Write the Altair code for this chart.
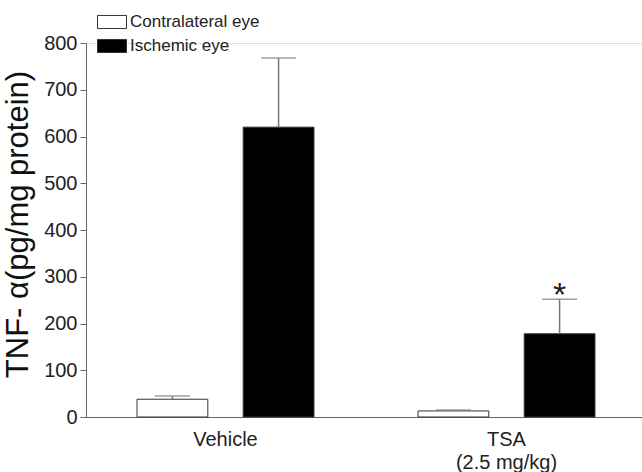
import altair as alt
import pandas as pd

# Treatment groups and eye series
groups = ["Vehicle", "TSA (2.5 mg/kg)"]
series = ["Contralateral eye", "Ischemic eye"]

# Mean TNF-alpha (pg/mg protein) and SEM per group
contralateral_mean = [38, 13]
contralateral_sem = [7, 2]
ischemic_mean = [620, 178]
ischemic_sem = [148, 74]

# Significance marks per group (ischemic eye)
ischemic_sig = ["", "*"]

rows = []
for i, g in enumerate(groups):
    rows.append({"group": g, "eye": series[0], "mean": contralateral_mean[i],
                 "upper": contralateral_mean[i] + contralateral_sem[i], "sig": ""})
    rows.append({"group": g, "eye": series[1], "mean": ischemic_mean[i],
                 "upper": ischemic_mean[i] + ischemic_sem[i], "sig": ischemic_sig[i]})
df = pd.DataFrame(rows)

FONT = "Liberation Sans"

x_enc = alt.X(
    "group:N",
    sort=groups,
    scale=alt.Scale(paddingInner=0, paddingOuter=0, range=[-1, 561]),
    axis=alt.Axis(
        title=None,
        labelAngle=0,
        ticks=False,
        domainColor="#666",
        labelFont=FONT,
        labelFontSize=20,
        labelColor="#222",
        labelPadding=12,
        labelLineHeight=23,
        labelExpr="datum.value == 'Vehicle' ? 'Vehicle' : ['TSA', '(2.5 mg/kg)']",
    ),
)
xo_enc = alt.XOffset(
    "eye:N", sort=series, scale=alt.Scale(paddingInner=0.3333, paddingOuter=0.49)
)

base = alt.Chart(df)

bars = base.mark_bar(stroke="#333", strokeWidth=1).encode(
    x=x_enc,
    xOffset=xo_enc,
    y=alt.Y(
        "mean:Q",
        scale=alt.Scale(domain=[0, 800], nice=False),
        axis=alt.Axis(
            values=list(range(0, 801, 100)),
            title="TNF- α(pg/mg protein)",
            titleFont=FONT,
            titleFontSize=31,
            titleFontWeight="normal",
            titleColor="#111",
            titlePadding=9,
            titleY=181,
            grid=False,
            tickSize=6,
            tickColor="#666",
            domainColor="#666",
            labelFont=FONT,
            labelFontSize=20,
            labelColor="#222",
            labelPadding=3,
        ),
    ),
    fill=alt.Fill(
        "eye:N",
        sort=series,
        scale=alt.Scale(domain=series, range=["white", "black"]),
        legend=alt.Legend(
            title=None,
            orient="none",
            legendX=11,
            legendY=-36,
            padding=0,
            symbolType="M-1,-0.45H1V0.45H-1Z",
            symbolSize=841,
            symbolStrokeColor="#333",
            symbolStrokeWidth=1,
            labelFont=FONT,
            labelFontSize=17,
            labelColor="#222",
            labelOffset=3,
            rowPadding=-5,
        ),
    ),
)

err = base.mark_rule(color="#777", strokeWidth=1.5).encode(
    x=x_enc, xOffset=xo_enc, y="mean:Q", y2="upper:Q"
)

caps = base.mark_tick(color="#777", thickness=1.5, size=35).encode(
    x=x_enc, xOffset=xo_enc, y="upper:Q"
)

stars = base.mark_text(
    font=FONT, fontSize=34, color="#222", baseline="alphabetic", dy=7
).encode(x=x_enc, xOffset=xo_enc, y="upper:Q", text="sig:N")

chart = (
    alt.layer(bars, err, caps, stars)
    .properties(
        width=556,
        height=374,
        autosize=alt.AutoSizeParams(type="none"),
        padding={"left": 86, "top": 43, "right": 0, "bottom": 55},
    )
    .configure_view(stroke=None)
    .configure(background="white")
)

chart.save("out.html", embed_options={"renderer": "svg", "actions": False})
